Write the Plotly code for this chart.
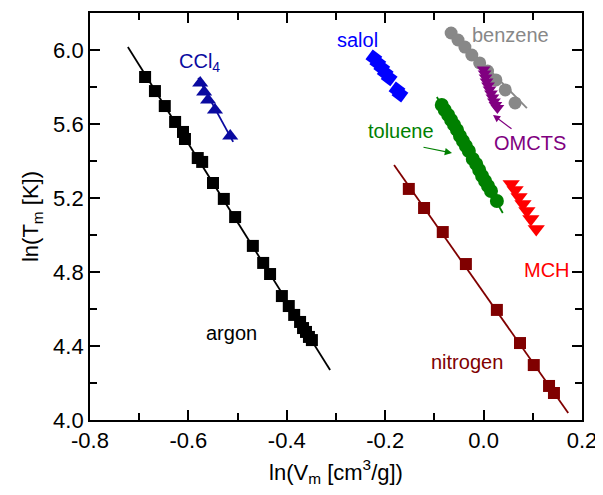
import plotly.graph_objects as go

# ---------------- data ----------------
argon_x = [-0.688, -0.668, -0.648, -0.627, -0.611, -0.607, -0.581, -0.572, -0.550, -0.528,
           -0.505, -0.469, -0.448, -0.434, -0.410, -0.396, -0.385, -0.373, -0.367, -0.361,
           -0.355, -0.349]
argon_y = [5.854, 5.778, 5.697, 5.611, 5.557, 5.519, 5.416, 5.395, 5.281, 5.195,
           5.097, 4.941, 4.849, 4.789, 4.670, 4.616, 4.568, 4.530, 4.497, 4.476,
           4.449, 4.432]
argon_fit_x = [-0.723, -0.312]
argon_fit_y = [6.016, 4.270]

ccl4_x = [-0.576, -0.568, -0.560, -0.546, -0.515]
ccl4_y = [5.822, 5.773, 5.730, 5.676, 5.535]
ccl4_fit_x = [-0.580, -0.509]
ccl4_fit_y = [5.849, 5.503]

salol_x = [-0.223, -0.215, -0.207, -0.200, -0.192, -0.176, -0.170]
salol_y = [5.957, 5.930, 5.903, 5.876, 5.849, 5.784, 5.762]

benzene_x = [-0.066, -0.052, -0.038, -0.024, -0.008, 0.008, 0.025, 0.044, 0.064]
benzene_y = [6.092, 6.054, 6.016, 5.973, 5.930, 5.886, 5.838, 5.784, 5.714]
benzene_fit_x = [-0.072, 0.088]
benzene_fit_y = [6.119, 5.686]

omcts_x = [0.000, 0.002, 0.004, 0.006, 0.009, 0.012, 0.015, 0.018, 0.021, 0.024, 0.028]
omcts_y = [5.895, 5.873, 5.851, 5.830, 5.808, 5.786, 5.765, 5.743, 5.722, 5.703, 5.686]

toluene_x = [-0.085, -0.079, -0.072, -0.066, -0.060, -0.054, -0.048, -0.042, -0.036,
             -0.030, -0.022, -0.015, -0.009, -0.003, 0.003, 0.009, 0.015, 0.027]
toluene_y = [5.703, 5.676, 5.649, 5.622, 5.595, 5.568, 5.535, 5.508, 5.481,
             5.454, 5.411, 5.384, 5.351, 5.319, 5.292, 5.265, 5.238, 5.184]
toluene_fit_x = [-0.095, 0.039]
toluene_fit_y = [5.746, 5.119]

mch_x = [0.056, 0.064, 0.072, 0.080, 0.088, 0.096, 0.107]
mch_y = [5.276, 5.243, 5.205, 5.168, 5.130, 5.086, 5.032]

nitrogen_x = [-0.152, -0.121, -0.083, -0.036, 0.027, 0.074, 0.102, 0.133, 0.143]
nitrogen_y = [5.249, 5.146, 5.016, 4.843, 4.595, 4.416, 4.297, 4.184, 4.146]
nitrogen_fit_x = [-0.182, 0.172]
nitrogen_fit_y = [5.378, 4.038]

x_ticks = [-0.8, -0.6, -0.4, -0.2, 0.0, 0.2]
x_ticklabels = ["-0.8", "-0.6", "-0.4", "-0.2", "0.0", "0.2"]
x_minor = [-0.7, -0.5, -0.3, -0.1, 0.1]
y_ticks = [4.0, 4.4, 4.8, 5.2, 5.6, 6.0]
y_ticklabels = ["4.0", "4.4", "4.8", "5.2", "5.6", "6.0"]
y_minor = [4.2, 4.6, 5.0, 5.4, 5.8, 6.2]

# ---------------- figure ----------------
FONT = "Liberation Sans, Arial, sans-serif"
fig = go.Figure()

def fit(xs, ys, color):
    fig.add_trace(go.Scatter(x=xs, y=ys, mode="lines",
                             line=dict(color=color, width=1.8), hoverinfo="skip"))

def pts(xs, ys, color, symbol, size, angle=0):
    fig.add_trace(go.Scatter(x=xs, y=ys, mode="markers",
                             marker=dict(color=color, symbol=symbol, size=size, angle=angle,
                                         line=dict(width=0))))

fit(argon_fit_x, argon_fit_y, "black")
pts(argon_x, argon_y, "black", "square", 12)

fit(ccl4_fit_x, ccl4_fit_y, "#0A0AA0")
pts(ccl4_x, ccl4_y, "#0A0AA0", "triangle-up", 14)

pts(salol_x, salol_y, "#0000FF", "square", 12, angle=37)

fit(benzene_fit_x, benzene_fit_y, "#888888")
pts(benzene_x, benzene_y, "#888888", "circle", 13)

pts(omcts_x, omcts_y, "#800080", "triangle-down", 12)

fit(toluene_fit_x, toluene_fit_y, "#008000")
pts(toluene_x, toluene_y, "#008000", "circle", 14)

pts(mch_x, mch_y, "#FF0000", "triangle-down", 15)

fit(nitrogen_fit_x, nitrogen_fit_y, "#800000")
pts(nitrogen_x, nitrogen_y, "#800000", "square", 12)

labels = [
    ("argon", -0.5134, 4.470, "black"),
    ("CCl<sub>4</sub>", -0.578, 5.935, "#0A0AA0"),
    ("salol", -0.2553, 6.054, "#0000FF"),
    ("benzene", 0.0537, 6.081, "#888888"),
    ("toluene", -0.1679, 5.562, "#008000"),
    ("OMCTS", 0.0943, 5.497, "#800080"),
    ("MCH", 0.1289, 4.811, "#FF0000"),
    ("nitrogen", -0.0337, 4.314, "#800000"),
]
for text, x, y, c in labels:
    fig.add_annotation(x=x, y=y, text=text, showarrow=False,
                       font=dict(family=FONT, size=20, color=c),
                       xanchor="center", yanchor="middle")

# arrows
fig.add_annotation(x=-0.0642, y=5.443, ax=-0.1252, ay=5.476, axref="x", ayref="y",
                   text="", showarrow=True, arrowhead=2, arrowsize=1.2,
                   arrowwidth=1.2, arrowcolor="#008000")
fig.add_annotation(x=0.0191, y=5.649, ax=0.0598, ay=5.568, axref="x", ayref="y",
                   text="", showarrow=True, arrowhead=2, arrowsize=1.2,
                   arrowwidth=1.2, arrowcolor="#800080")

axis_common = dict(
    showline=True, linecolor="black", linewidth=1.8, mirror="allticks",
    ticks="inside", ticklen=10, tickwidth=1.5, tickcolor="black",
    showgrid=False, zeroline=False,
    tickfont=dict(family=FONT, size=22, color="black"),
)

# the page body adds an 8px offset, so the figure is 8px smaller and margins shifted
fig.update_layout(
    width=595, height=487,
    margin=dict(l=82, r=21, t=5, b=75, autoexpand=False),
    plot_bgcolor="white", paper_bgcolor="white",
    showlegend=False,
    font=dict(family=FONT, color="black"),
    xaxis=dict(range=[-0.8, 0.2], tickvals=x_ticks, ticktext=x_ticklabels,
               title=dict(text="ln(V<sub>m</sub> [cm<sup>3</sup>/g])",
                          font=dict(family=FONT, size=22), standoff=12),
               minor=dict(tickvals=x_minor, ticks="inside", ticklen=7, tickwidth=1.5,
                          tickcolor="black", showgrid=False),
               **axis_common),
    yaxis=dict(range=[4.0, 6.2], tickvals=y_ticks, ticktext=y_ticklabels,
               title=dict(text="ln(T<sub>m</sub> [K])",
                          font=dict(family=FONT, size=22), standoff=8),
               minor=dict(tickvals=y_minor, ticks="inside", ticklen=7, tickwidth=1.5,
                          tickcolor="black", showgrid=False),
               **axis_common),
)

fig.write_html("out.html")
